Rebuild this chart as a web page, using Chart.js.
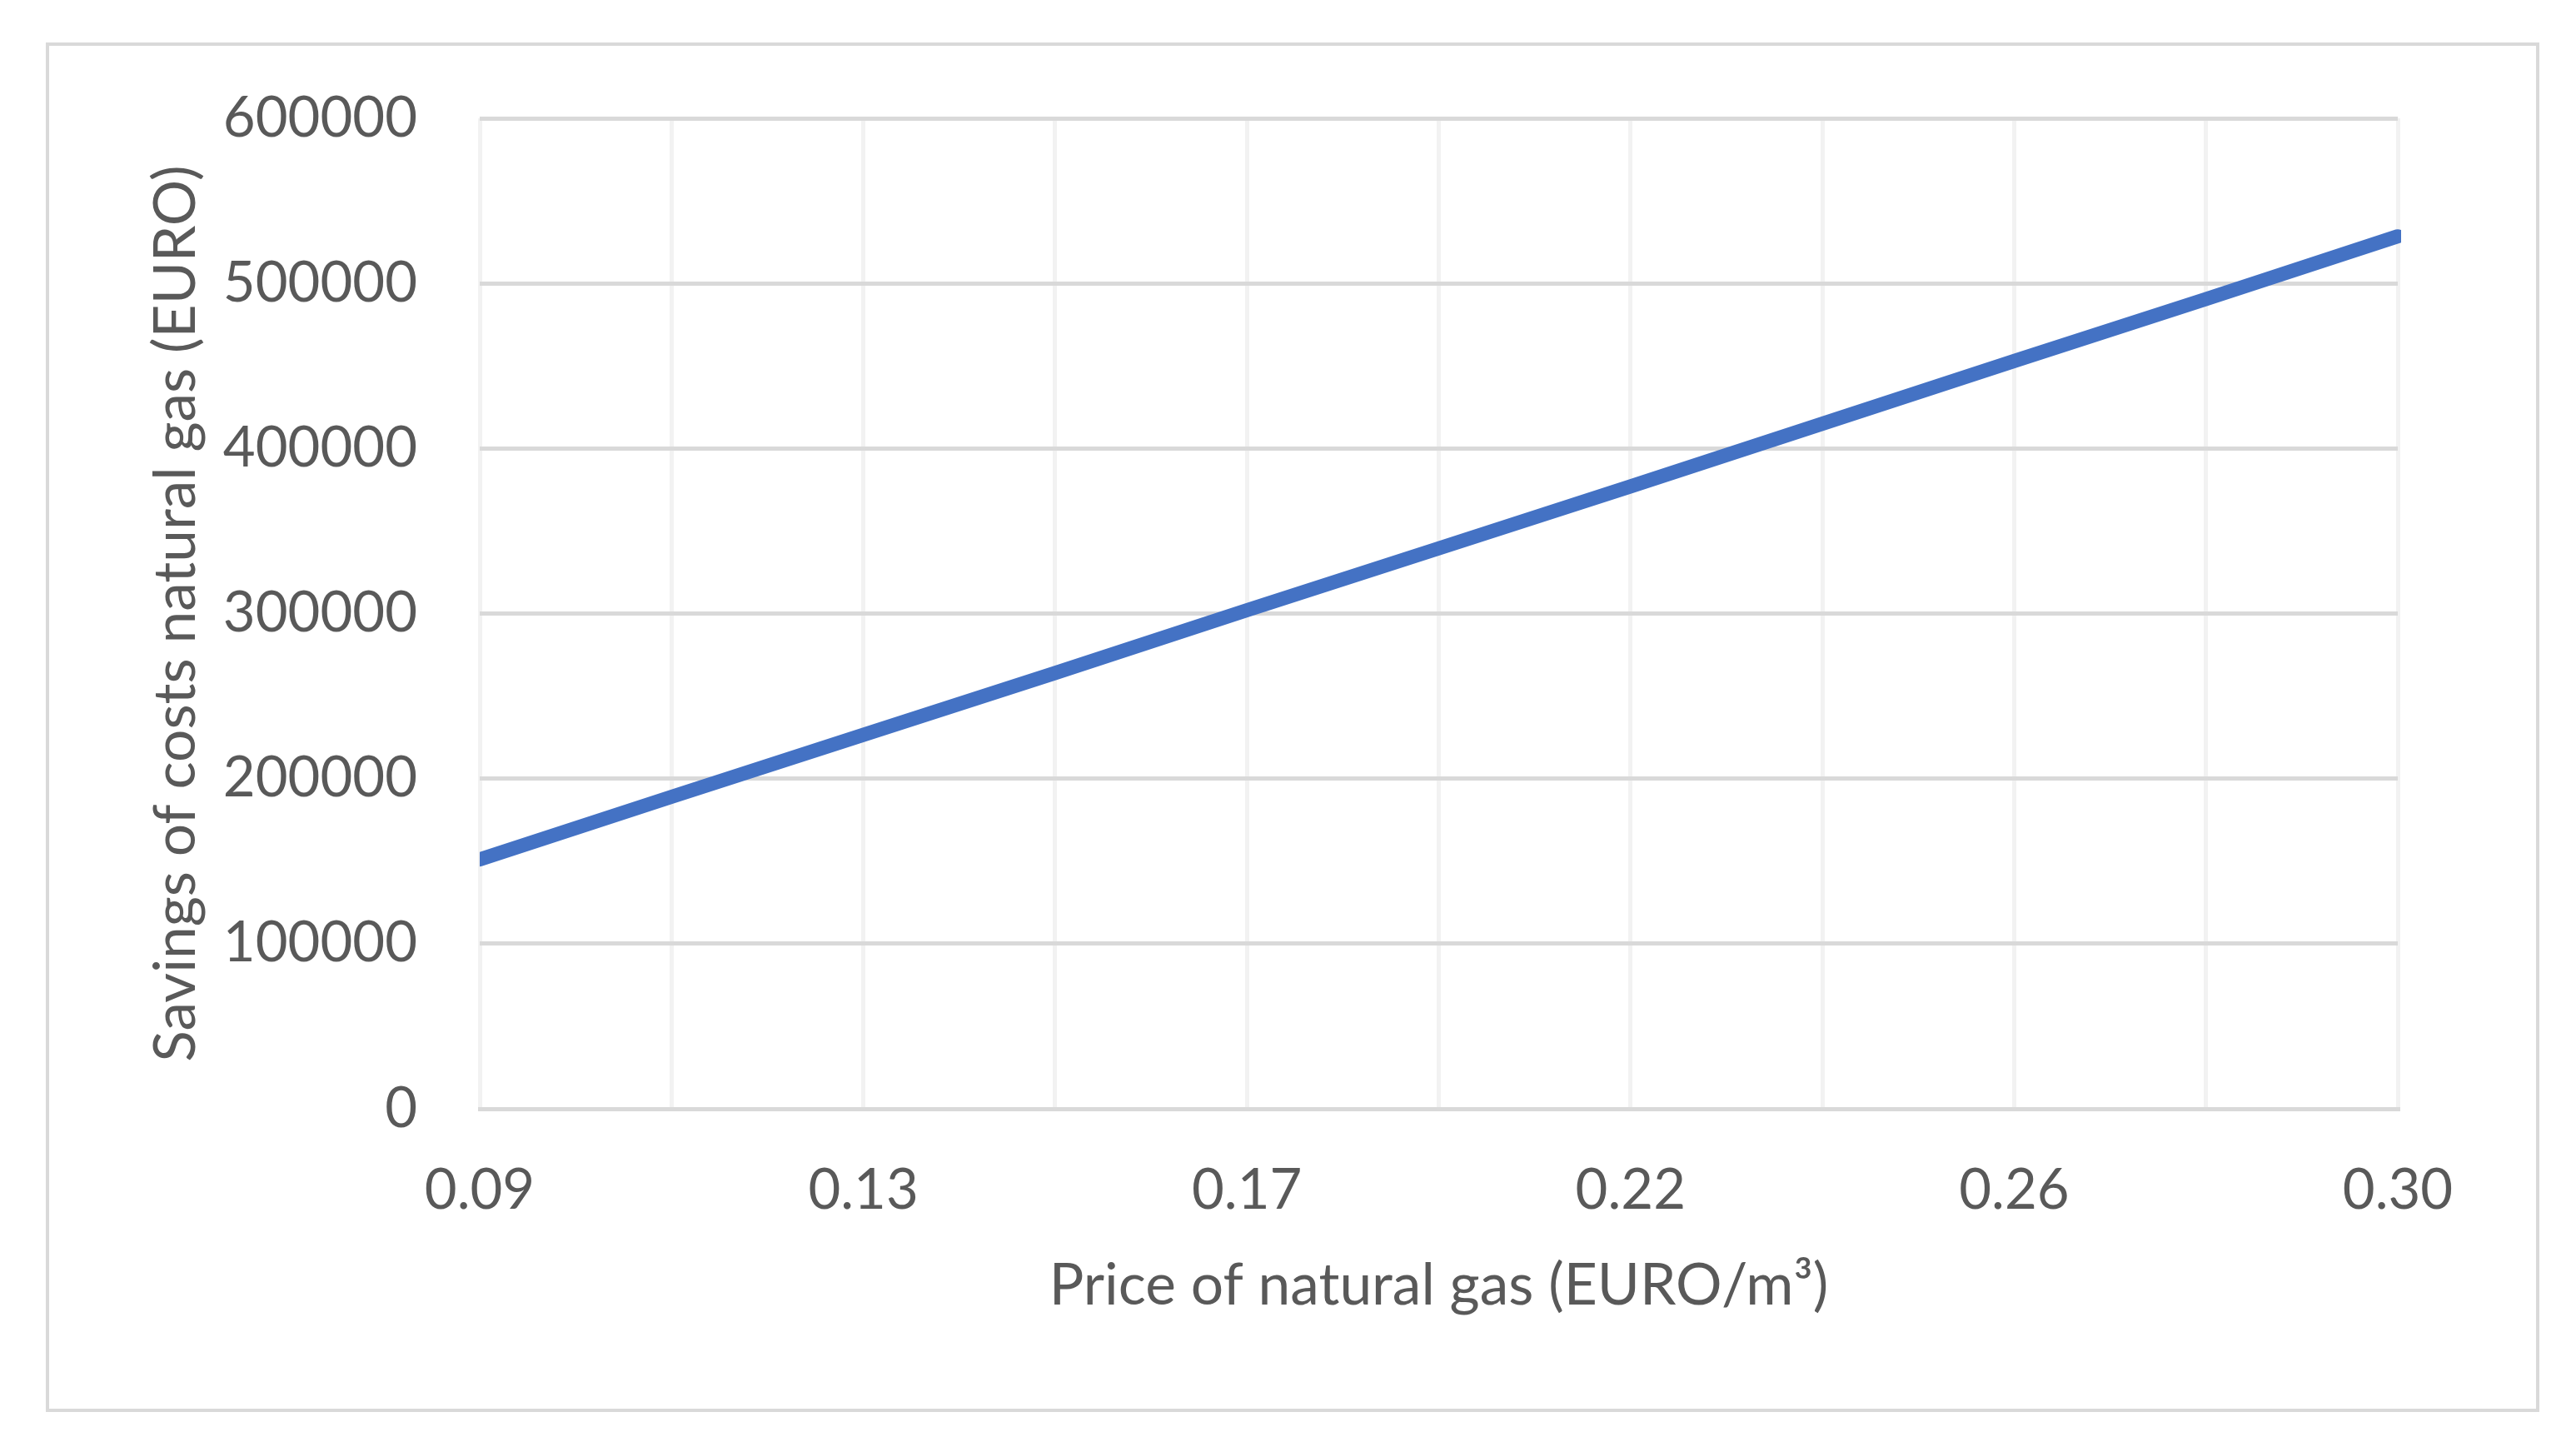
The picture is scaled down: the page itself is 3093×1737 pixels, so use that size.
<!DOCTYPE html>
<html>
<head>
<meta charset="utf-8">
<script src="https://cdn.jsdelivr.net/npm/chart.js@4.4.0/dist/chart.umd.min.js"></script>
<style>
  html, body { margin: 0; padding: 0; background: #ffffff; overflow: hidden; }
  #wrap { position: absolute; left: 0; top: 0; width: 3093px; height: 1737px; }
  #frame {
    position: absolute; left: 55px; top: 51px; width: 2986px; height: 1636px;
    border: 4px solid #d9d9d9; pointer-events: none;
  }
</style>
</head>
<body>
<div id="wrap"><canvas id="gasChart"></canvas></div>
<div id="frame"></div>
<script>
// price of natural gas (EURO/m3), one category per vertical gridline
const prices = ["0.09", "0.11", "0.13", "0.15", "0.17", "0.20", "0.22", "0.24", "0.26", "0.28", "0.30"];
// savings (EURO)
const savings = [151000, 189000, 226500, 264000, 302000, 339500, 377000, 415000, 453000, 490500, 528500];
const yMin = 0;
const yMax = 600000;
const yStep = 100000;

const textColor = "#595959";
const fontFamily = "Lato, 'Open Sans', sans-serif";
const fontSize = 67;
const titleSize = 69.5;

document.addEventListener("DOMContentLoaded", () => {
  drawLineChart("gasChart");
});

function drawLineChart(canvasId) {
  const ctx = document.getElementById(canvasId).getContext("2d");

  window[canvasId] = new Chart(ctx, {
    type: "line",
    data: {
      labels: prices,
      datasets: [{
        label: "Savings",
        data: savings,
        borderColor: "#4472C4",
        backgroundColor: "#4472C4",
        borderWidth: 17,
        pointRadius: 0,
        tension: 0,
        borderCapStyle: "round",
        clip: { left: 0, right: 4, top: false, bottom: false },
      }],
    },
    options: {
      responsive: true,
      maintainAspectRatio: false,
      animation: false,
      layout: { padding: { left: 0, top: 142, right: 214, bottom: 0 } },
      plugins: {
        legend: { display: false },
        tooltip: { enabled: false },
      },
      scales: {
        x: {
          afterFit: (s) => { s.height = 1737 - 1331; },
          grid: { color: "#f2f2f2", lineWidth: 5, drawTicks: false },
          border: { color: "#d9d9d9", width: 5 },
          ticks: {
            autoSkip: false,
            maxRotation: 0,
            padding: 58,
            color: textColor,
            font: { family: fontFamily, size: fontSize },
            callback: function (v, i) { return i % 2 === 0 ? this.getLabelForValue(v) : ""; },
          },
          title: {
            display: true,
            text: "Price of natural gas (EURO/m³)",
            color: textColor,
            font: { family: fontFamily, size: titleSize },
            padding: { top: 0, bottom: 152 },
          },
        },
        y: {
          min: yMin,
          max: yMax,
          afterFit: (s) => { s.width = 576; },
          grid: { color: "#d9d9d9", lineWidth: 5, drawTicks: false },
          border: { display: false },
          ticks: {
            stepSize: yStep,
            padding: 75,
            color: textColor,
            font: { family: fontFamily, size: fontSize },
            callback: (v) => String(v),
          },
          title: {
            display: true,
            text: "Savings of costs natural gas (EURO)",
            color: textColor,
            font: { family: fontFamily, size: titleSize },
            padding: { top: 170, bottom: 0 },
          },
        },
      },
    },
  });
}
</script>
</body>
</html>
